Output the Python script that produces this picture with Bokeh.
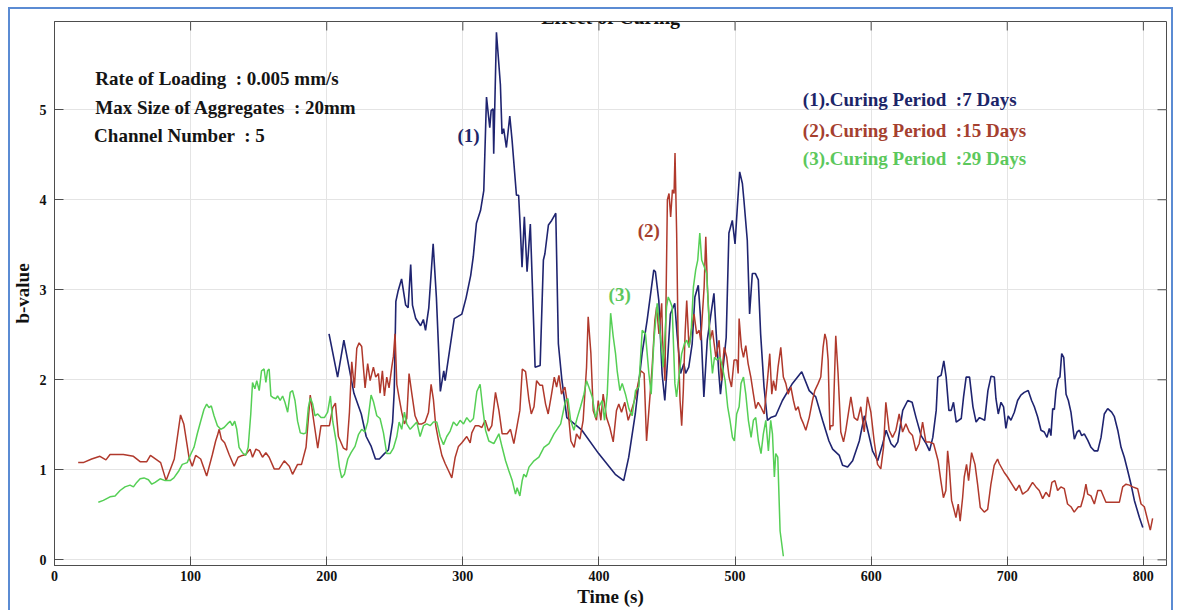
import math
from bokeh.plotting import figure
from bokeh.models import Label, BoxAnnotation, FixedTicker, Range1d, InlineStyleSheet
from bokeh.embed import file_html
from bokeh.resources import INLINE

# b-value series for the three curing periods (time in s, b-value)
t_7d = [201.7, 208, 212.6, 220, 225.4, 229, 232.7, 235.8, 238.7, 242.4, 245.3, 248.4, 249.6, 250.8,
        252.5, 255, 258, 259.8, 261.7, 263, 265.4, 269, 271, 272.6, 275, 278.2, 280.6, 283.5, 286,
        287, 290.3, 293.7, 299.3, 302.4, 305.8, 307.7, 310, 313, 315.4, 317.4, 319.8, 320.8, 322.2,
        322.7, 324.7, 327.6, 328.8, 330, 332, 334.5, 336.2, 339.4, 341, 342.3, 343.5, 345.2, 347.2,
        349.6, 353.1, 356.8, 359.2, 360.3, 362.9, 365.3, 368.3, 370.2, 372.7, 376.4, 387.5, 399.8,
        412, 418.2, 421.9, 426.7, 431.7, 435.4, 440.3, 441.5, 444, 446.4, 448.4, 450.1, 452.5,
        455.7, 457.4, 460, 462.4, 463.7, 466, 468.5, 470.5, 473, 474.6, 477.1, 479.6, 482, 484.5,
        486.2, 488.1, 489.3, 491, 493.5, 495.5, 498, 500, 501.7, 503.4, 505.4, 506.5, 509, 510.7,
        512.7, 515, 517.1, 518.8, 521.3, 523.8, 526.2, 529.9, 534.8, 542.2, 549, 554.5, 559.3,
        564.3, 569, 571.7, 576.6, 579, 582.7, 586.4, 591.3, 595, 597.5, 601, 604.8, 608.5, 611,
        614.6, 617.1, 619.6, 623.2, 626.9, 630.1, 633, 636.7, 640.4, 642.9, 645.3, 647.8, 649,
        651.4, 653.4, 655.1, 657.1, 658.8, 660.5, 662.5, 666.2, 667.9, 669.8, 672.3, 674.8, 677.1,
        679.6, 683.4, 685.8, 688.1, 690.5, 691.7, 693.4, 695.4, 697.3, 699, 700.7, 702.7, 705.2,
        707.6, 710, 712.5, 715.4, 717.9, 719.9, 722.3, 724.8, 727.2, 729.2, 730.9, 732.1, 733.4,
        734.6, 735.8, 737.5, 738.7, 740, 741.5, 743.2, 744.9, 746.8, 749.3, 751.3, 753, 754.7,
        756.6, 759.1, 761.5, 764, 766.5, 768.9, 771.3, 773.8, 776.7, 778.7, 781.2, 783.6, 786,
        788.5, 790.9, 793.4, 797.1, 799.6]
b_7d = [2.51, 2.03, 2.44, 1.85, 1.62, 1.37, 1.26, 1.12, 1.12, 1.18, 1.22, 1.53, 1.87, 2.87,
        2.99, 3.12, 2.83, 2.80, 3.28, 2.83, 2.68, 2.60, 2.67, 2.55, 2.80, 3.51, 2.91, 1.87, 2.10,
        1.99, 2.33, 2.68, 2.73, 2.91, 3.16, 3.37, 3.74, 3.88, 4.10, 5.14, 4.80, 4.99, 5.01,
        4.51, 5.86, 5.28, 4.73, 4.79, 4.58, 4.93, 4.66, 4.05, 4.05, 3.66, 3.25, 3.81, 3.20,
        3.73, 2.14, 2.16, 3.33, 3.40, 3.72, 3.77, 3.85, 2.40, 2.01, 1.58, 1.44, 1.18,
        0.95, 0.88, 1.14, 1.62, 2.29, 2.66, 3.22, 3.20, 2.88, 2.07, 1.77, 2.14, 2.73,
        2.85, 2.51, 2.07, 2.18, 2.07, 2.14, 2.40, 2.92, 3.05, 2.70, 1.81, 2.44, 2.70, 2.96,
        2.51, 2.07, 1.84, 2.10, 2.47, 3.63, 3.77, 3.51, 3.92, 4.31, 4.18, 4.00, 3.55, 2.73,
        3.18, 3.18, 3.11, 2.51, 1.92, 1.55, 1.58, 1.60, 1.77, 1.96, 2.09, 1.88, 1.81,
        1.55, 1.32, 1.23, 1.16, 1.05, 1.03, 1.10, 1.32, 1.60, 1.44, 1.21, 1.10, 1.29, 1.44,
        1.29, 1.25, 1.31, 1.66, 1.77, 1.75, 1.58, 1.38, 1.29, 1.21, 1.36, 1.66, 2.03,
        2.05, 2.21, 2.03, 1.66, 1.66, 1.75, 1.53, 1.57, 1.81, 2.03, 2.03, 1.70, 1.53,
        1.58, 1.55, 1.88, 2.04, 2.03, 1.79, 1.62, 1.75, 1.70, 1.46, 1.60, 1.55, 1.64,
        1.77, 1.83, 1.86, 1.88, 1.77, 1.70, 1.59, 1.44, 1.42, 1.36, 1.46, 1.38, 1.68,
        1.67, 1.88, 2.01, 2.03, 2.29, 2.25, 1.84, 1.77, 1.64, 1.34, 1.42, 1.44, 1.38,
        1.40, 1.33, 1.25, 1.21, 1.21, 1.36, 1.62, 1.68, 1.64, 1.59, 1.44, 1.25, 1.14,
        0.99, 0.84, 0.66, 0.47, 0.36]

t_15d = [17.4, 21.1, 27.3, 33.4, 37.8, 40.8, 50.6, 58, 62.9, 67.8, 70.5, 78, 82, 88, 92.6, 95,
         98.8, 101.2, 103.7, 107.4, 111.8, 116, 118.4, 119.7, 121, 122.6, 125, 128.3, 132, 134.9,
         138, 140.5, 143.7, 145.5, 148, 150.4, 152.8, 155.3, 157.7, 161.4, 165, 168.8, 172.5,
         174.9, 178.6, 181.5, 184.8, 187.9, 190.2, 193.4, 195.8, 198.8, 202, 204.4, 206.4, 208.6,
         212.3, 214.7, 216.7, 218.4, 220.3, 222.1, 223.8, 225.7, 228.2, 230.1, 231.9, 234.3, 236,
         238, 239.2, 240.9, 242.4, 244.1, 245.8, 247.8, 249, 250.2, 251.5, 253.2, 255.1, 257.1,
         258.8, 260.5, 262.5, 264.9, 267.4, 269.9, 272.3, 274.8, 276.7, 278.4, 280.1, 282.1,
         284.6, 287, 289.5, 291.9, 294.4, 296.8, 299.3, 302.9, 305.4, 306.6, 309.1, 311.5, 314,
         316.4, 318.9, 321.3, 324, 326.5, 328.9, 332.6, 335, 337.5, 339.9, 341.9, 343.7, 346.1,
         348.6, 350.3, 352.3, 354.2, 356.7, 358.5, 360.8, 362.7, 365.2, 367.2, 368.9, 370.6,
         372.5, 375, 376.9, 379.4, 381.8, 383.5, 386, 388.4, 390.9, 392.1, 394.1, 395.8, 398.2,
         399.5, 401.4, 403.1, 405.6, 408, 410.5, 412.9, 414.6, 416.6, 419, 421.5, 423.9, 426.9,
         428.8, 430.8, 433.2, 435, 436.7, 439.1, 441.1, 442.4, 444.1, 446.1, 446.8, 448.5,
         450.3, 451.5, 452.7, 454, 455.2, 455.9, 457.1, 458.1, 459.6, 460.8, 462, 463.3, 464.5,
         466.2, 467.9, 469.9, 471.8, 473.6, 474.8, 477.3, 478.5, 479.7, 481.7, 483.4, 485.9,
         488.3, 490, 492, 493.9, 495.6, 497.4, 499.3, 501.3, 502.3, 503, 504.7, 506.2, 507.9,
         509.6, 511.6, 513.5, 515.2, 517, 518.9, 521.4, 523.8, 525.5, 527, 528.2, 529.9, 531.6,
         533.6, 535.5, 537.3, 539, 541, 542.9, 544.6, 546.4, 548.3, 550.3, 552, 554.5, 556.9,
         558.6, 561.1, 563, 564.7, 566, 567.2, 568.4, 569.7, 570.3, 572, 574, 575.7, 577.7,
         579.7, 581.4, 585.1, 587.5, 590, 592.4, 594.9, 597.3, 599.8, 602.2, 604.7, 607.1,
         609.1, 610.8, 613.2, 615.7, 618.2, 620.6, 623.1, 625.5, 628, 630.4, 632.9, 635.3,
         637.8, 640.2, 642.7, 645.9, 649.2, 651.2, 653.1, 654.9, 656.2, 657.4, 659.1, 661,
         662.3, 664, 665.4, 667.2, 668.4, 670.1, 671.6, 673.8, 676.3, 678.2, 680.2, 683.1,
         685.6, 688, 690.4, 692.9, 694.1, 697.8, 700.2, 703.9, 706.4, 708.8, 711.3, 715, 718.6,
         721.1, 723.5, 726, 728.4, 730.9, 732.8, 735, 737, 739.4, 741.9, 744.3, 746.8, 749.2,
         752.2, 754, 756.1, 757.8, 759.1, 761.5, 764, 766.5, 768.9, 772.5, 777.5, 782.4, 784.8,
         787.3, 789.7, 792.2, 795.8, 798.3, 800.7, 803.2, 805.1, 806.8]
b_15d = [1.08, 1.08, 1.12, 1.15, 1.11, 1.17, 1.17, 1.15, 1.09, 1.09, 1.16, 1.08, 0.88, 1.12, 1.61, 1.51,
         1.14, 1.04, 1.16, 1.12, 0.93, 1.17, 1.32, 1.38, 1.45, 1.34, 1.30, 1.17, 1.04, 1.14,
         1.16, 1.17, 1.23, 1.14, 1.23, 1.21, 1.14, 1.19, 1.14, 1.01, 1.01, 1.10, 1.04,
         0.95, 1.06, 1.06, 1.25, 1.83, 1.57, 1.24, 1.49, 1.49, 1.49, 1.69, 1.74, 1.37,
         1.24, 1.22, 1.64, 2.20, 1.91, 2.35, 2.41, 2.37, 1.91, 2.18, 1.99, 2.14, 2.03,
         2.07, 1.85, 2.10, 1.82, 2.03, 1.91, 2.14, 2.26, 2.51, 1.95, 1.80, 1.64, 1.51,
         1.57, 2.07, 1.85, 1.60, 1.51, 1.51, 1.53, 1.64, 1.95, 1.78, 1.49, 1.33,
         1.16, 1.07, 0.99, 0.91, 1.14, 1.26, 1.30, 1.37, 1.30, 1.41, 1.49, 1.49, 1.47,
         1.55, 1.43, 1.49, 1.86, 1.66, 1.40, 1.40, 1.45, 1.29, 1.49, 1.66, 2.12, 2.09,
         1.77, 1.62, 1.70, 1.99, 1.94, 1.94, 1.73, 1.62, 1.84, 2.03, 1.92, 2.05,
         1.84, 1.92, 1.73, 1.32, 1.25, 1.40, 1.34, 1.55, 2.14, 2.70, 2.29, 1.66, 1.55,
         1.77, 1.55, 1.84, 1.58, 1.47, 1.31, 1.66, 1.73, 1.64, 1.75, 1.55, 1.66, 1.81,
         1.96, 2.10, 2.07, 1.32, 1.66, 2.14, 2.66, 2.81, 2.51, 2.85, 2.44, 1.99,
         4.00, 4.07, 3.81, 4.11, 4.07, 4.52, 3.63, 2.51, 1.77, 1.49, 1.88, 2.51, 2.88,
         2.36, 2.55, 2.73, 2.51, 2.55, 2.44, 3.03, 3.59, 3.03, 2.44, 2.55, 2.25,
         2.44, 1.99, 2.36, 2.25, 2.03, 1.92, 2.22, 2.22, 2.07, 2.68, 2.36, 2.25, 2.38,
         2.18, 2.03, 1.84, 1.68, 1.75, 1.70, 1.62, 1.99, 2.29, 1.84, 1.99, 1.88, 2.14,
         2.36, 2.03, 1.96, 1.84, 1.92, 1.77, 1.66, 1.70, 1.58, 1.51, 1.44, 1.58, 1.77,
         1.88, 1.96, 2.03, 2.36, 2.51, 2.44, 2.22, 1.44, 1.49, 1.49, 2.49, 2.07, 1.42,
         1.31, 1.44, 1.81, 1.58, 1.55, 1.70, 1.42, 1.81, 1.64, 1.32, 1.06, 1.01,
         1.25, 1.75, 1.44, 1.36, 1.44, 1.62, 1.42, 1.51, 1.42, 1.38, 1.21, 1.29,
         1.53, 1.31, 1.31, 1.29, 1.10, 0.88, 0.69, 0.77, 1.21, 1.03, 0.66, 0.55,
         0.47, 0.62, 0.43, 0.69, 0.92, 1.06, 0.88, 1.19, 1.06, 0.84, 0.58, 0.53,
         0.56, 0.84, 1.05, 1.12, 1.07, 0.97, 0.92, 0.83, 0.77, 0.83, 0.73, 0.77, 0.86,
         0.81, 0.77, 0.68, 0.75, 0.70, 0.86, 0.88, 0.77, 0.81, 0.79, 0.62, 0.59, 0.53,
         0.59, 0.59, 0.70, 0.84, 0.73, 0.71, 0.62, 0.77, 0.77, 0.64, 0.64, 0.64, 0.81,
         0.84, 0.83, 0.81, 0.79, 0.62, 0.59, 0.44, 0.33, 0.46]

t_29d = [32.2, 35.9, 40.8, 44.5, 48.2, 51.8, 55.5, 58, 60.4, 62.9, 65.8, 69, 71.5, 73.9, 77.6, 81.3,
         85, 87.7, 91.4, 93.9, 97.5, 100, 102.5, 104.9, 107.4, 109.8, 111.8, 113.5, 115.2, 117.2,
         119.7, 122.1, 124.6, 127, 129, 130.7, 132.4, 133.9, 135.6, 138.1, 140.5, 142.3, 144.2,
         145.5, 147.2, 148.6, 150.4, 152.1, 154, 155.3, 156.5, 157.7, 159, 160.9, 162.7, 163.9,
         165.8, 167.6, 169.3, 171.3, 173.2, 174.9, 176.7, 178.6, 180.6, 183, 184.8, 186.5, 188,
         189.7, 191.4, 193.4, 195.8, 198.3, 200.7, 202.7, 204.4, 206.9, 209.3, 211, 213, 215.5,
         217.9, 220.8, 223.3, 225.7, 228, 230.1, 232.6, 234.3, 236.8, 239.2, 241.7, 244.1, 246.6,
         249, 251.5, 253.2, 255.1, 257.1, 258.8, 261.3, 263.7, 266.2, 268.6, 271.1, 273.5, 276,
         278.4, 280.9, 283.3, 285.8, 288.2, 290.7, 293.1, 295.6, 298, 300.5, 302.9, 305.4, 307.8,
         310.3, 312.7, 314.5, 316.7, 319.1, 322.8, 326.5, 328.9, 331.4, 333.8, 336.3, 338.7,
         339.9, 341.9, 343.6, 344.8, 346.5, 348.6, 352.3, 355.9, 359.6, 363.3, 367, 371.9, 375.5,
         377.2, 379.2, 381.6, 384.1, 386.5, 389, 390.9, 392.6, 395.1, 397.5, 400, 402.4, 404.1,
         406.1, 408.6, 410.5, 412.2, 413.4, 415.4, 417.1, 419.5, 422, 424.4, 426.9, 429.3, 431.8,
         434.2, 436.7, 438.4, 440.4, 442.8, 444.8, 447.2, 449.7, 450.9, 452.1, 453.8, 455.8, 457,
         460.8, 462.8, 464.5, 466.2, 467.7, 469.4, 471.1, 472.6, 474.1, 475.5, 477.5, 479.2,
         480.4, 481.7, 483.4, 484.9, 486.6, 489, 490.7, 492.7, 494.6, 496.3, 498.1, 499.5, 501.2,
         503, 504.4, 506.2, 507.9, 509.8, 511.8, 513.5, 515.2, 517.2, 519.1, 520.8, 522.6, 524.5,
         526.2, 527.5, 528.9, 529.9, 531.4, 533.1, 535.5]
b_29d = [0.64, 0.66, 0.70, 0.71, 0.77, 0.81, 0.83, 0.81, 0.86, 0.90, 0.91, 0.89, 0.84, 0.86, 0.90, 0.88,
         0.88, 0.91, 0.99, 1.06, 1.08, 1.17, 1.25, 1.40, 1.54, 1.67, 1.73, 1.69, 1.71, 1.60,
         1.49, 1.45, 1.47, 1.51, 1.54, 1.49, 1.54, 1.45, 1.25, 1.19, 1.16, 1.25, 1.62,
         1.97, 1.90, 1.99, 1.88, 2.10, 2.12, 1.97, 2.10, 2.12, 1.82, 1.80, 1.79, 1.82,
         1.77, 1.82, 1.75, 1.64, 1.86, 1.88, 1.77, 1.54, 1.41, 1.40, 1.41, 1.69, 1.80,
         1.73, 1.60, 1.62, 1.58, 1.58, 1.64, 1.82, 1.54, 1.32, 1.03, 0.91, 0.95, 1.12,
         1.19, 1.26, 1.39, 1.45, 1.42, 1.53, 1.83, 1.76, 1.60, 1.57, 1.41, 1.18, 1.18,
         1.24, 1.37, 1.53, 1.45, 1.64, 1.51, 1.45, 1.49, 1.53, 1.37, 1.49, 1.51, 1.49,
         1.53, 1.53, 1.37, 1.28, 1.37, 1.43, 1.53, 1.49, 1.55, 1.51, 1.58, 1.53, 1.57,
         1.87, 1.95, 1.70, 1.44, 1.32, 1.29, 1.40, 1.25, 1.10, 0.99, 0.88, 0.73,
         0.80, 0.71, 0.88, 0.95, 0.92, 1.03, 1.10, 1.14, 1.25, 1.29, 1.40, 1.51, 1.77,
         1.79, 1.55, 1.44, 1.58, 1.70, 1.84, 1.99, 1.92, 1.81, 1.58, 1.70, 1.77, 1.55,
         1.84, 2.74, 2.48, 2.29, 2.10, 1.88, 1.96, 1.84, 1.68, 1.60, 1.88, 1.92, 2.55,
         2.51, 2.07, 1.84, 2.44, 2.85, 2.55, 2.14, 2.81, 2.92, 2.88, 2.81, 1.96, 1.81,
         2.29, 2.40, 2.44, 2.36, 2.51, 3.03, 3.22, 3.33, 3.63, 3.33, 3.25, 3.18,
         2.81, 2.40, 2.07, 2.25, 2.22, 2.25, 2.14, 1.99, 1.70, 1.55, 1.36, 1.32, 1.62,
         1.70, 1.96, 2.03, 1.84, 1.55, 1.36, 1.55, 1.58, 1.32, 1.18, 1.40, 1.55, 1.21,
         1.55, 1.40, 0.92, 1.18, 1.14, 0.32, 0.04]

x_ticks = [0, 100, 200, 300, 400, 500, 600, 700, 800]
y_ticks = [0, 1, 2, 3, 4, 5]

series_names = ["(1)", "(2)", "(3)"]
legend_lines = ["(1).Curing Period \u00a0:7 Days", "(2).Curing Period \u00a0:15 Days",
                "(3).Curing Period \u00a0:29 Days"]
info_lines = ["Rate of Loading \u00a0: 0.005 mm/s", "Max Size of Aggregates \u00a0: 20mm",
              "Channel Number \u00a0: 5"]

line_colors = ["#1f2470", "#b0392c", "#55cf55"]
text_colors = ["#1c2568", "#a5402f", "#5cc85c"]
FONT = "Liberation Serif"
AXIS_GREY = "#4d4d4d"

X_MIN, X_MAX = 0, 817
Y_MIN, Y_MAX = -0.063, 5.98

p = figure(width=1179, height=610, output_backend="svg", toolbar_location=None,
           x_range=Range1d(X_MIN, X_MAX), y_range=Range1d(Y_MIN, Y_MAX),
           min_border_left=54, min_border_right=13, min_border_top=21, min_border_bottom=45,
           background_fill_color="white", border_fill_color="white")

# light-blue page frame drawn over the figure, with a white strip above its top edge
p.stylesheets = [InlineStyleSheet(css="""
:host { position: relative; }
:host::before {
  content: ""; position: absolute; left: 0; top: 0; width: 100%; height: 8px;
  background: #ffffff; z-index: 20; pointer-events: none;
}
:host::after {
  content: ""; position: absolute; left: 8px; top: 7px; width: 1165px; height: 650px;
  border: 2px solid #5b8bd3; box-sizing: border-box; z-index: 21; pointer-events: none;
}
""")]

p.outline_line_color = AXIS_GREY
p.outline_line_width = 1

xt = FixedTicker(ticks=x_ticks)
yt = FixedTicker(ticks=y_ticks)

# bottom / left axes with inward ticks
p.xaxis.ticker = xt
p.yaxis.ticker = yt
for ax in (p.xaxis[0], p.yaxis[0]):
    ax.major_tick_in = 9
    ax.major_tick_out = 0
    ax.minor_tick_line_color = None
    ax.axis_line_color = AXIS_GREY
    ax.major_tick_line_color = AXIS_GREY
    ax.major_label_text_font = FONT
    ax.major_label_text_font_style = "bold"
    ax.major_label_text_font_size = "14px"
    ax.major_label_text_color = "#111111"
    ax.axis_label_text_font = FONT
    ax.axis_label_text_font_style = "bold"
    ax.axis_label_text_font_size = "19px"
    ax.axis_label_text_color = "#111111"
p.xaxis.axis_label = "Time (s)"
p.xaxis.major_label_standoff = 5
p.xaxis.axis_label_standoff = 2
p.yaxis.axis_label = "b-value"
p.yaxis.major_label_standoff = 8
p.yaxis.axis_label_standoff = 4

p.xgrid.ticker = xt
p.ygrid.ticker = yt
p.xgrid.grid_line_color = "#e4e4e4"
p.ygrid.grid_line_color = "#e4e4e4"

# inward tick marks along the top and right edges of the box
# (dash markers centred on the edge; the frame clips the outer half)
p.scatter(x_ticks, [Y_MAX] * len(x_ticks), marker="dash", size=18, angle=math.pi / 2,
          line_color=AXIS_GREY, line_width=1)
p.scatter([X_MAX] * len(y_ticks), y_ticks, marker="dash", size=18,
          line_color=AXIS_GREY, line_width=1)

# the three b-value curves
p.line(t_7d, b_7d, line_color=line_colors[0], line_width=1.6)
p.line(t_15d, b_15d, line_color=line_colors[1], line_width=1.5)
p.line(t_29d, b_29d, line_color=line_colors[2], line_width=1.5)

# test parameters (upper left)
for txt, yv, xv in zip(info_lines, [5.348, 5.026, 4.714], [30.0, 30.0, 29.1]):
    p.add_layout(Label(x=xv, y=yv, text=txt, text_font=FONT, text_font_style="bold",
                       text_font_size="19px", text_color="#151515", text_baseline="alphabetic"))

# curing period key (upper right)
for txt, yv, col in zip(legend_lines, [5.114, 4.770, 4.459], text_colors):
    p.add_layout(Label(x=549.8, y=yv, text=txt, text_font=FONT, text_font_style="bold",
                       text_font_size="19px", text_color=col, text_baseline="alphabetic"))

# curve tags
for txt, xv, yv, col in zip(series_names, [296.1, 428.5, 407.1], [4.714, 3.659, 2.948], text_colors):
    p.add_layout(Label(x=xv, y=yv, text=txt, text_font=FONT, text_font_style="bold",
                       text_font_size="19px", text_color=col, text_baseline="alphabetic"))

# title sitting just above the box; its upper part is hidden under the page frame strip
p.add_layout(Label(x=408.6, y=6.026, text="Effect of Curing",
                   text_font=FONT, text_font_style="bold", text_font_size="20px",
                   text_color="#111111", text_align="center", text_baseline="alphabetic"))

open("out.html", "w").write(file_html(p, INLINE))
